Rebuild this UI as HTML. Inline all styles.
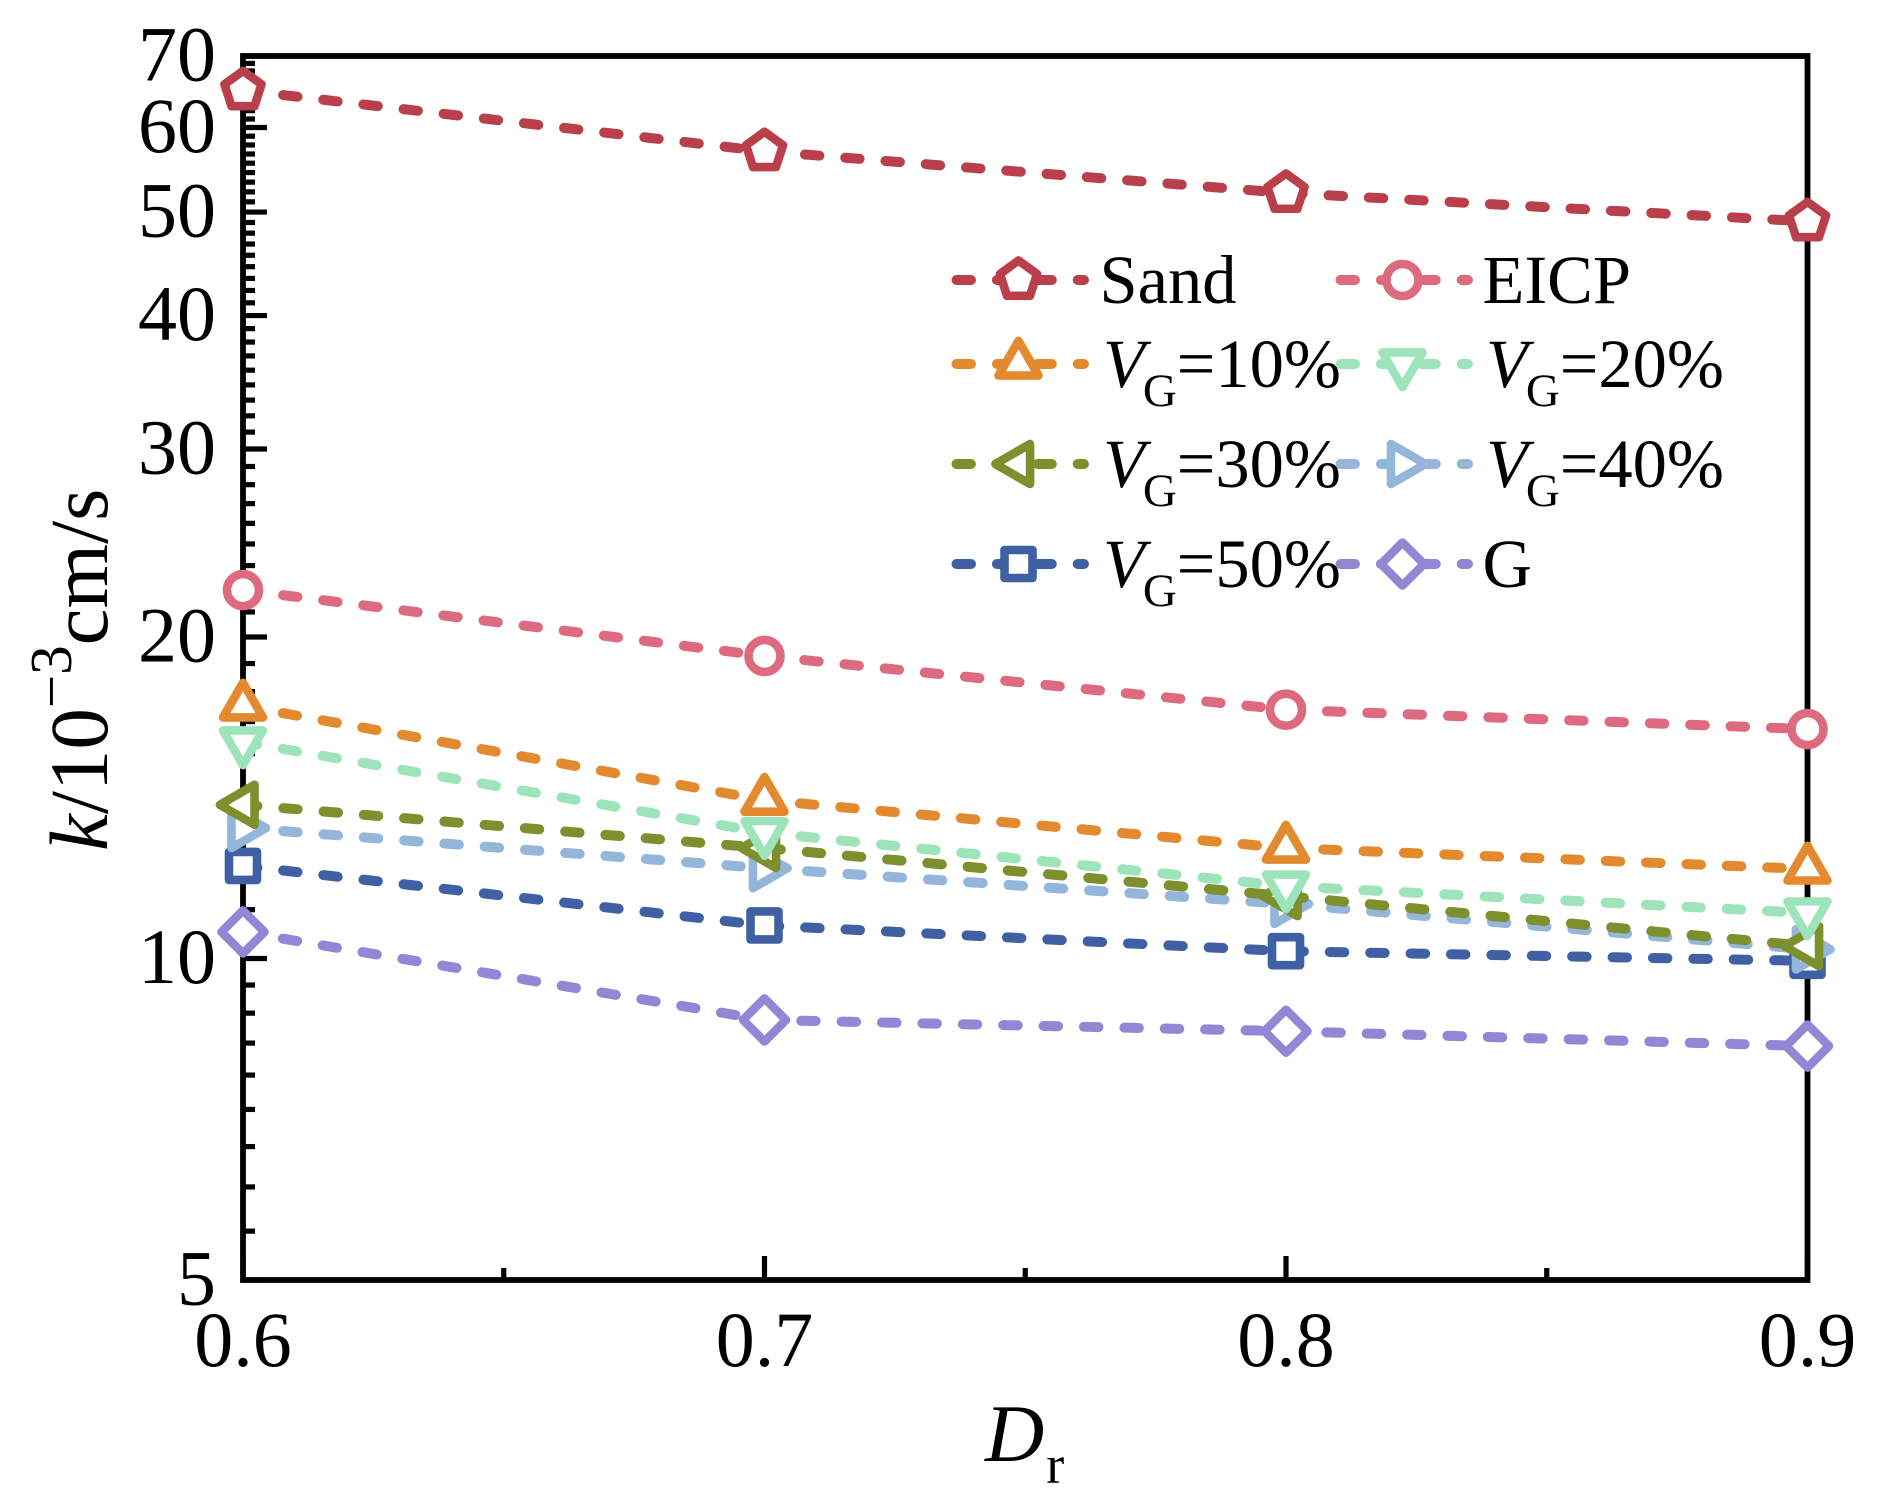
<!DOCTYPE html>
<html lang="en">
<head>
<meta charset="utf-8">
<title>Permeability vs relative density</title>
<style>
html,body{margin:0;padding:0;background:#fff;}
svg{display:block;font-family:"Liberation Serif",serif;fill:#000;}
</style>
</head>
<body>
<svg id="chart" xmlns="http://www.w3.org/2000/svg" width="1882" height="1506" viewBox="0 0 1882 1506">
  <rect x="0" y="0" width="1882" height="1506" fill="#ffffff"/>
  <g id="ticks"></g>
  <rect x="243" y="56" width="1564.5" height="1224" fill="none" stroke="#000" stroke-width="5.8"/>
  <g id="tick-labels" font-size="78"></g>
  <g id="series"></g>
  <text transform="translate(107,851) rotate(-90)" font-size="83"><tspan font-style="italic">k</tspan><tspan>/10</tspan><tspan font-size="59" dy="-36">−3</tspan><tspan dy="36">cm/s</tspan></text>
  <text x="985" y="1461" font-size="82"><tspan font-style="italic">D</tspan><tspan font-size="54" dy="22" dx="2">r</tspan></text>
  <g id="legend"></g>
  <g font-size="68.5">
    <text x="1099.5" y="303">Sand</text>
    <text x="1482.5" y="303">EICP</text>
    <text x="1101" y="387"><tspan font-style="italic" dx="2">V</tspan><tspan font-size="47" dy="19" dx="-2">G</tspan><tspan dy="-19">=10%</tspan></text>
    <text x="1484" y="387"><tspan font-style="italic" dx="2">V</tspan><tspan font-size="47" dy="19" dx="-2">G</tspan><tspan dy="-19">=20%</tspan></text>
    <text x="1101" y="487"><tspan font-style="italic" dx="2">V</tspan><tspan font-size="47" dy="19" dx="-2">G</tspan><tspan dy="-19">=30%</tspan></text>
    <text x="1484" y="487"><tspan font-style="italic" dx="2">V</tspan><tspan font-size="47" dy="19" dx="-2">G</tspan><tspan dy="-19">=40%</tspan></text>
    <text x="1101" y="587"><tspan font-style="italic" dx="2">V</tspan><tspan font-size="47" dy="19" dx="-2">G</tspan><tspan dy="-19">=50%</tspan></text>
    <text x="1482.5" y="587">G</text>
  </g>
</svg>
<script>
// ---- data ----
const relativeDensity = [0.6, 0.7, 0.8, 0.9];
const sandValues = [65.0, 57.0, 52.1, 49.0];
const eicpValues = [22.13, 19.2, 17.1, 16.4];
const vg10Values = [17.24, 14.07, 12.69, 12.13];
const vg20Values = [15.95, 13.12, 11.69, 11.03];
const vg30Values = [13.93, 12.69, 11.44, 10.27];
const vg40Values = [13.25, 12.15, 11.25, 10.2];
const vg50Values = [12.21, 10.74, 10.16, 9.95];
const gValues = [10.59, 8.76, 8.55, 8.28];
const xTickLabels = ['0.6', '0.7', '0.8', '0.9'];
const xMinorTicks = [0.65, 0.75, 0.85];
const yTickLabels = [5, 10, 20, 30, 40, 50, 60, 70];

// ---- axes ----
const X0 = 243, X1 = 1807.5, Y0 = 1280, Y1 = 56;
function xScale(v) { return X0 + (v - 0.6) / (0.9 - 0.6) * (X1 - X0); }
function yScale(v) { return Y0 - Math.log10(v / 5) / Math.log10(70 / 5) * (Y0 - Y1); }

const NS = 'http://www.w3.org/2000/svg';
function make(tag, attrs, parent) {
  const n = document.createElementNS(NS, tag);
  for (const k in attrs) n.setAttribute(k, attrs[k]);
  parent.appendChild(n);
  return n;
}

const seriesList = [
  {key: 'sand', values: sandValues, color: '#B9404A', shape: 'pentagon'},
  {key: 'eicp', values: eicpValues, color: '#DD6A7F', shape: 'circle'},
  {key: 'vg10', values: vg10Values, color: '#E38A2E', shape: 'up'},
  {key: 'vg20', values: vg20Values, color: '#9EE4BA', shape: 'down'},
  {key: 'vg30', values: vg30Values, color: '#7C902D', shape: 'left'},
  {key: 'vg40', values: vg40Values, color: '#93B6DA', shape: 'right'},
  {key: 'vg50', values: vg50Values, color: '#3F60A3', shape: 'square'},
  {key: 'g', values: gValues, color: '#9586D5', shape: 'diamond'}
];

function polyPoints(cx, cy, r, angles) {
  return angles.map(function (a) {
    const t = a * Math.PI / 180;
    return (cx + r * Math.cos(t)).toFixed(2) + ',' + (cy + r * Math.sin(t)).toFixed(2);
  }).join(' ');
}

function drawMarker(shape, cx, cy, color, parent) {
  const common = {fill: '#ffffff', stroke: color, 'stroke-width': 8.6, 'stroke-linejoin': 'round'};
  const attrs = Object.assign({}, common);
  if (shape === 'circle') {
    attrs.cx = cx; attrs.cy = cy; attrs.r = 16;
    return make('circle', attrs, parent);
  }
  if (shape === 'pentagon') attrs.points = polyPoints(cx, cy, 19.5, [-90, -18, 54, 126, 198]);
  if (shape === 'up') attrs.points = polyPoints(cx, cy, 23.1, [-90, 30, 150]);
  if (shape === 'down') attrs.points = polyPoints(cx, cy, 23.1, [90, 210, 330]);
  if (shape === 'left') attrs.points = polyPoints(cx, cy, 23.1, [180, 300, 60]);
  if (shape === 'right') attrs.points = polyPoints(cx, cy, 23.1, [0, 120, 240]);
  if (shape === 'square') attrs.points = polyPoints(cx, cy, 19.8, [45, 135, 225, 315]);
  if (shape === 'diamond') attrs.points = polyPoints(cx, cy, 21.5, [0, 90, 180, 270]);
  return make('polygon', attrs, parent);
}

// ---- ticks ----
const tickGroup = document.getElementById('ticks');
const labelGroup = document.getElementById('tick-labels');

yTickLabels.forEach(function (v, i) {
  const y = yScale(v);
  const major = make('line', {x1: X0, x2: 267, y1: y, y2: y, stroke: '#000', 'stroke-width': 5.2}, tickGroup);
  
  
  const label = make('text', {x: 216, y: y + 24.5, 'text-anchor': 'end'}, labelGroup);
  label.textContent = String(v);
  
  
  if (i < yTickLabels.length - 1) {
    const next = yTickLabels[i + 1];
    for (let k = 1; k <= 8; k++) {
      const mv = v + (next - v) * k / 9;
      const my = yScale(mv);
      const minor = make('line', {x1: X0, x2: 255, y1: my, y2: my, stroke: '#000', 'stroke-width': 5.2}, tickGroup);
      
      
    }
  }
});

relativeDensity.forEach(function (v, i) {
  const x = xScale(v);
  const major = make('line', {x1: x, x2: x, y1: Y0, y2: 1256, stroke: '#000', 'stroke-width': 5.2}, tickGroup);
  
  
  const label = make('text', {x: x, y: 1366, 'text-anchor': 'middle'}, labelGroup);
  label.textContent = xTickLabels[i];
  
  
});

xMinorTicks.forEach(function (v) {
  const x = xScale(v);
  const minor = make('line', {x1: x, x2: x, y1: Y0, y2: 1268, stroke: '#000', 'stroke-width': 5.2}, tickGroup);
  
  
});

// ---- series (drawn last-to-first so earlier series sit on top) ----
const seriesGroup = document.getElementById('series');
seriesList.slice().reverse().forEach(function (s) {
  const g = make('g', {}, seriesGroup);
  
  
  const pts = s.values.map(function (v, i) {
    return xScale(relativeDensity[i]).toFixed(2) + ',' + yScale(v).toFixed(2);
  }).join(' ');
  const line = make('polyline', {points: pts, fill: 'none', stroke: s.color, 'stroke-width': 10,
    'stroke-linecap': 'round', 'stroke-linejoin': 'round', 'stroke-dasharray': '14.5 25.9'}, g);
  
  
  s.values.forEach(function (v, i) {
    const m = drawMarker(s.shape, xScale(relativeDensity[i]), yScale(v), s.color, g);
    
    
  });
});

// ---- legend samples ----
const legendGroup = document.getElementById('legend');
const legendRowY = [280, 280, 364, 364, 464, 464, 564, 564];
seriesList.forEach(function (s, i) {
  const left = i % 2 === 0 ? 956.5 : 1340.5;
  const y = legendRowY[i];
  const g = make('g', {}, legendGroup);
  
  
  const line = make('line', {x1: left, x2: left + 127.5, y1: y, y2: y, stroke: s.color, 'stroke-width': 10,
    'stroke-linecap': 'round', 'stroke-dasharray': '14.5 25.9'}, g);
  
  
  const m = drawMarker(s.shape, left + 62, y, s.color, g);
  
  
});
</script>
</body>
</html>
